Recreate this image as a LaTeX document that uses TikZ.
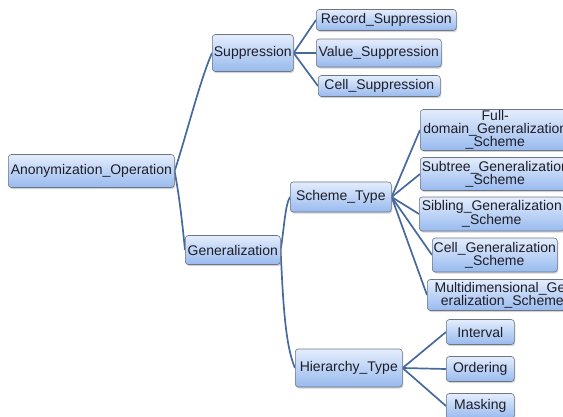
\documentclass[tikz,border=0pt]{standalone}
\usepackage{fontspec}
\setmainfont{Liberation Sans}
\usetikzlibrary{shadows,backgrounds}
\definecolor{linkc}{RGB}{70,106,158}
\definecolor{boxtop}{RGB}{228,237,253}
\definecolor{boxbot}{RGB}{152,186,238}
\definecolor{boxline}{RGB}{110,118,132}
\definecolor{txtc}{RGB}{30,30,40}
\tikzset{
  tbox/.style={draw=boxline, line width=0.6pt, rounded corners=3pt,
    top color=boxtop, bottom color=boxbot, anchor=west, text=txtc,
    font=\fontsize{14}{13}\selectfont, inner sep=1pt, align=center,
    drop shadow={opacity=0.35, shadow xshift=1pt, shadow yshift=-1.5pt}},
  link/.style={draw=linkc, line width=1.7pt},
}
\begin{document}
\begin{tikzpicture}[x=1pt,y=-1pt]
\useasboundingbox (0,0) rectangle (563,416);
% nodes
\node[tbox, minimum width=166, minimum height=33] (anon) at (8,171) {Anonymization\_Operation};
\node[tbox, minimum width=81, minimum height=37] (supp) at (212,53) {Suppression};
\node[tbox, minimum width=140, minimum height=21] (rec) at (316,20) {Record\_Suppression};
\node[tbox, minimum width=125, minimum height=28] (val) at (316,53) {Value\_Suppression};
\node[tbox, minimum width=122, minimum height=21] (cell) at (318,86) {Cell\_Suppression};
\node[tbox, minimum width=95, minimum height=29] (gen) at (185,250) {Generalization};
\node[tbox, minimum width=101, minimum height=30] (scheme) at (290,197) {Scheme\_Type};
\node[tbox, minimum width=150, minimum height=40] (full) at (420,130) {Full-\\domain\_Generalization\\\_Scheme};
\node[tbox, minimum width=150, minimum height=33] (sub) at (420,174) {Subtree\_Generalization\\\_Scheme};
\node[tbox, minimum width=145, minimum height=34] (sib) at (419,214) {Sibling\_Generalization\\\_Scheme};
\node[tbox, minimum width=125, minimum height=34] (cellg) at (432,255) {Cell\_Generalization\\\_Scheme};
\node[tbox, minimum width=150, minimum height=31] (multi) at (427,295) {Multidimensional\_Ger\\eralization\_Scheme};
\node[tbox, minimum width=107, minimum height=38] (hier) at (295,368) {Hierarchy\_Type};
\node[tbox, minimum width=68, minimum height=25] (int) at (446,332) {Interval};
\node[tbox, minimum width=68, minimum height=25] (ord) at (446,369) {Ordering};
\node[tbox, minimum width=68, minimum height=25] (mask) at (446,406) {Masking};
% connectors behind nodes
\begin{scope}[on background layer]
\path[link] (anon.east) .. controls (185,140) and (200,80) .. (supp.west);
\path[link] (anon.east) .. controls (180,200) and (183,230) .. (gen.west);
\path[link] (gen.east) .. controls (284,230) and (285,205) .. (scheme.west);
\path[link] (gen.east) .. controls (283,300) and (285,345) .. (hier.west);
\foreach \c in {rec,val,cell} \path[link] (supp.east) -- (\c.west);
\foreach \c in {full,sub,sib,cellg,multi} \path[link] (scheme.east) -- (\c.west);
\foreach \c in {int,ord,mask} \path[link] (hier.east) -- (\c.west);
\end{scope}
\end{tikzpicture}
\end{document}
